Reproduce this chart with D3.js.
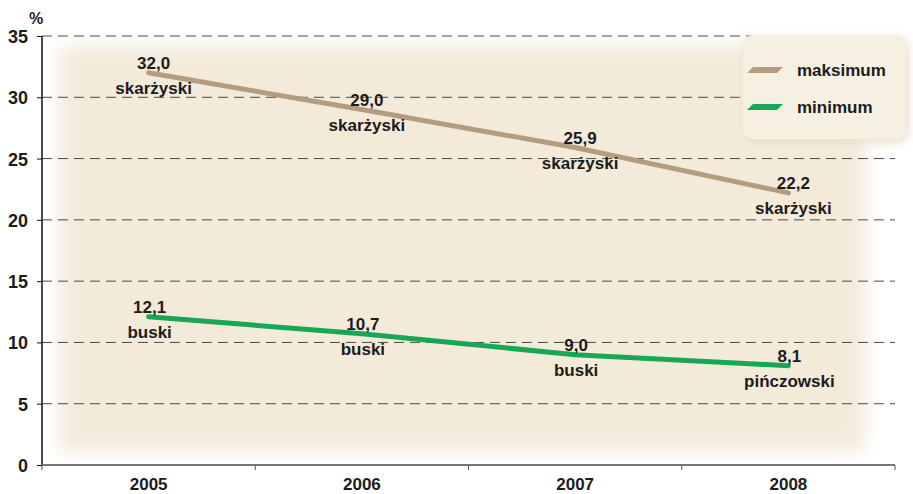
<!DOCTYPE html>
<html><head><meta charset="utf-8">
<script src="https://cdn.jsdelivr.net/npm/d3@7"></script>
<style>
html,body{margin:0;padding:0;background:#fff;}
svg{display:block;font-family:"Liberation Sans",Arial,sans-serif;font-weight:bold;}
</style></head>
<body>
<svg id="chart" width="913" height="494"></svg>
<script>
const years = ["2005","2006","2007","2008"];
const maxValues = [32.0, 29.0, 25.9, 22.2];
const maxNames = ["skarżyski","skarżyski","skarżyski","skarżyski"];
const minValues = [12.1, 10.7, 9.0, 8.1];
const minNames = ["buski","buski","buski","pińczowski"];
const yTicks = [0,5,10,15,20,25,30,35];
const seriesNames = ["maksimum","minimum"];
const colors = ["#b39d80","#16a757"];

const svg = d3.select("#chart");
const mLeft = 42, mRight = 895, mTop = 36, mBottom = 465;
const x = d3.scaleBand().domain(years).range([mLeft, mRight]);
const y = d3.scaleLinear().domain([0,35]).range([mBottom, mTop]);
const cx = d => x(d) + x.bandwidth()/2;
const ink = "#1c1c1c";

const defs = svg.append("defs");
const blur = defs.append("filter").attr("id","soft").attr("x","-10%").attr("y","-10%").attr("width","120%").attr("height","120%");
blur.append("feGaussianBlur").attr("stdDeviation", 9);
const sh = defs.append("filter").attr("id","shadow").attr("x","-20%").attr("y","-20%").attr("width","140%").attr("height","140%");
sh.append("feGaussianBlur").attr("stdDeviation", 5);

// plot background
svg.append("rect").attr("x", mLeft+18).attr("y", mTop+10).attr("width", 805).attr("height", 405)
  .attr("fill","#f3eada").attr("filter","url(#soft)");

// gridlines
svg.append("g").selectAll("line").data(yTicks.filter(t=>t>0)).join("line")
  .attr("x1", mLeft).attr("x2", mRight).attr("y1", d=>y(d)).attr("y2", d=>y(d))
  .attr("stroke","#4a4a4a").attr("stroke-width",1).attr("stroke-dasharray","10,6");

// legend
const lg = svg.append("g");
lg.append("rect").attr("x", 745).attr("y", 38).attr("width", 163).attr("height", 104).attr("rx", 10)
  .attr("fill","#e8dcc4").attr("filter","url(#shadow)");
lg.append("rect").attr("x", 743).attr("y", 35).attr("width", 163).attr("height", 104).attr("rx", 10)
  .attr("fill","#f6f0e3");
seriesNames.forEach((n,i)=>{
  const yy = 70 + i*37;
  lg.append("path").attr("d", `M${747},${yy+3} L${753},${yy-3} L${783},${yy-3} L${777},${yy+3} Z`).attr("fill", colors[i]);
  lg.append("text").attr("x", 797).attr("y", yy+6).attr("font-size", 17).attr("fill",ink).text(n);
});

// axes
const yAxis = d3.axisLeft(y).tickValues(yTicks).tickSize(5).tickPadding(9);
const gy = svg.append("g").attr("transform",`translate(${mLeft},0)`).call(yAxis);
gy.select(".domain").attr("stroke","#111").attr("stroke-width",1.5).attr("d",`M0,${mTop}V${mBottom}`);
gy.selectAll(".tick line").attr("stroke","#111");
gy.selectAll(".tick text").attr("font-size",18).attr("font-weight","bold").attr("fill",ink)
  .attr("font-family","Liberation Sans, Arial, sans-serif").attr("dy","0.36em");

const xb = d3.scaleLinear().domain([0,4]).range([mLeft,mRight]);
const gx = svg.append("g").attr("transform",`translate(0,${mBottom})`);
gx.append("line").attr("x1",mLeft).attr("x2",mRight).attr("stroke","#777").attr("stroke-width",2);
gx.selectAll("line.t").data([0,1,2,3,4]).join("line").attr("class","t")
  .attr("x1",d=>xb(d)).attr("x2",d=>xb(d)).attr("y1",0).attr("y2",5).attr("stroke","#555");
const xAxis = d3.axisBottom(x).tickSize(0).tickPadding(13);
const gx2 = svg.append("g").attr("transform",`translate(0,${mBottom})`).call(xAxis);
gx2.select(".domain").remove();
gx2.selectAll(".tick text").attr("font-size",17).attr("font-weight","bold").attr("fill",ink)
  .attr("font-family","Liberation Sans, Arial, sans-serif");

svg.append("text").attr("x",29).attr("y",24).attr("font-size",16).attr("fill",ink).text("%");

// lines
const line = d3.line().x((d,i)=>cx(years[i])).y(d=>y(d));
[maxValues, minValues].forEach((vals,i)=>{
  svg.append("path").datum(vals).attr("d", line).attr("fill","none")
    .attr("stroke", colors[i]).attr("stroke-width",5).attr("stroke-linecap","round");
});

// labels
const fmt = v => v.toFixed(1).replace(".", ",");
[[maxValues, maxNames, 5],[minValues, minNames, 1]].forEach(([vals,names,dx])=>{
  const g = svg.append("g").attr("font-size",17).attr("fill",ink).attr("text-anchor","middle");
  g.selectAll("text.v").data(vals).join("text").attr("class","v")
    .attr("x",(d,i)=>cx(years[i])+dx).attr("y",d=>y(d)-4).text(fmt);
  g.selectAll("text.n").data(names).join("text").attr("class","n")
    .attr("x",(d,i)=>cx(years[i])+dx).attr("y",(d,i)=>y(vals[i])+21).text(d=>d);
});
</script>
</body></html>
